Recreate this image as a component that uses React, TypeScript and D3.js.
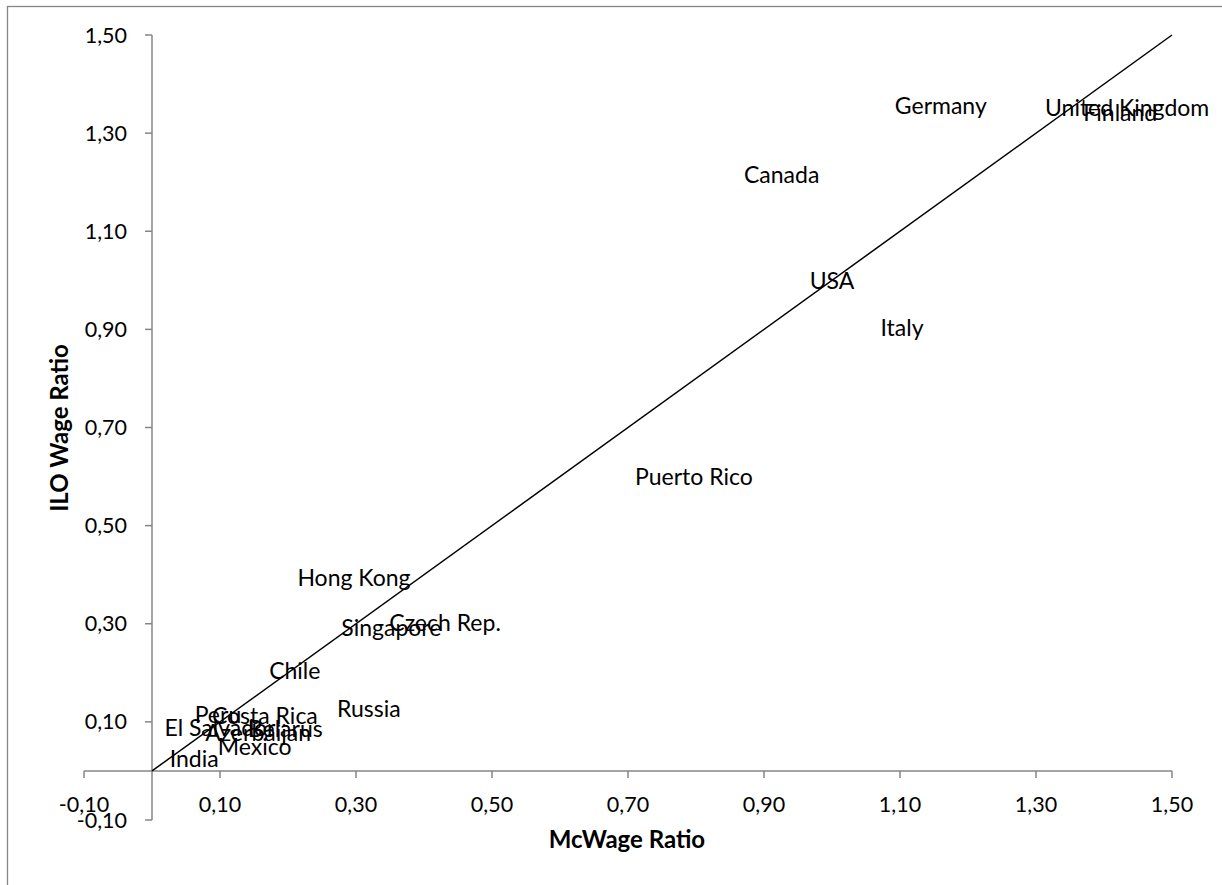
import React from "react";
import * as d3 from "d3";

const countries = ["Germany","United Kingdom","Finland","Canada","USA","Italy","Puerto Rico","Hong Kong","Singapore","Czech Rep.","Chile","Russia","Peru","Costa Rica","El Salvador","Belarus","Azerbaijan","Mexico","India"];
const mcwage = [1.160,1.434,1.424,0.926,1.0,1.103,0.797,0.297,0.352,0.431,0.210,0.319,0.097,0.166,0.100,0.196,0.156,0.151,0.062];
const ilowage = [1.355,1.351,1.341,1.215,1.0,0.903,0.599,0.393,0.291,0.302,0.204,0.126,0.114,0.112,0.088,0.086,0.077,0.049,0.024];
const ticks = [-0.1,0.1,0.3,0.5,0.7,0.9,1.1,1.3,1.5];
const diagonal = [0,1.5];

const W = 1222, H = 885;
const FONT = "Lato, 'Open Sans', sans-serif";
const GRAY = "#868686";

export default function App() {
  const x = d3.scaleLinear().domain([-0.1, 1.5]).range([84, 1172]);
  const y = d3.scaleLinear().domain([-0.1, 1.5]).range([820, 35]);
  const fmt = (v: number) => d3.format(".2f")(v).replace(".", ",").replace("−", "-");
  const line = d3.line<number>().x(d => x(d)).y(d => y(d));
  return (
    <svg width={W} height={H} style={{ position: "absolute", left: 0, top: 0, background: "#fff" }} fontFamily={FONT}>
      <rect x={7.5} y={6.5} width={W + 20} height={H + 20} fill="#fff" stroke={GRAY} strokeWidth={1.3} />
      {/* x axis */}
      <line x1={x(-0.1)} x2={x(1.5)} y1={y(0)} y2={y(0)} stroke={GRAY} strokeWidth={1.5} />
      {ticks.map(t => (
        <g key={"xt" + t}>
          <line x1={x(t)} x2={x(t)} y1={y(0)} y2={y(0) + 7} stroke={GRAY} strokeWidth={1.5} />
          <text x={x(t)} y={y(0) + 41} textAnchor="middle" fontSize={21.5} fill="#000">{fmt(t)}</text>
        </g>
      ))}
      {/* y axis */}
      <line x1={x(0)} x2={x(0)} y1={y(-0.1)} y2={y(1.5)} stroke={GRAY} strokeWidth={1.5} />
      {ticks.map(t => (
        <g key={"yt" + t}>
          <line x1={x(0) - 7} x2={x(0)} y1={y(t)} y2={y(t)} stroke={GRAY} strokeWidth={1.5} />
          <text x={x(0) - 25} y={y(t)} dy="0.35em" textAnchor="end" fontSize={21.5} fill="#000">{fmt(t)}</text>
        </g>
      ))}
      {/* diagonal */}
      <path d={line(diagonal) || ""} stroke="#000" strokeWidth={1.5} fill="none" />
      {/* labels */}
      {countries.map((c, i) => (
        <text key={c} x={x(mcwage[i])} y={y(ilowage[i])} dy="0.36em" textAnchor="middle" fontSize={23} fill="#000">{c}</text>
      ))}
      <text x={627} y={848} textAnchor="middle" fontSize={24} fontWeight="bold">McWage Ratio</text>
      <text transform={`translate(68,428) rotate(-90)`} textAnchor="middle" fontSize={24} fontWeight="bold">ILO Wage Ratio</text>
    </svg>
  );
}
